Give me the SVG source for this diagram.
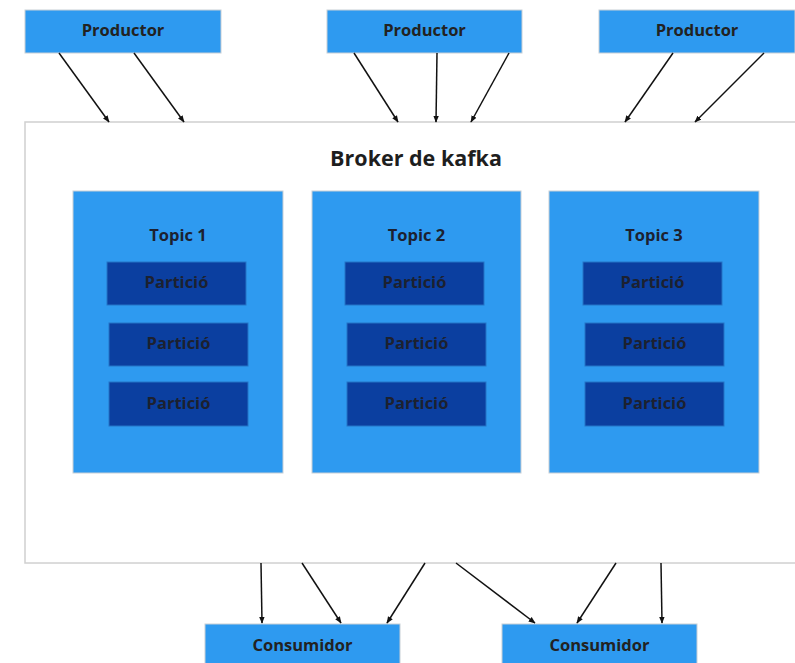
<svg xmlns="http://www.w3.org/2000/svg" width="795" height="663" viewBox="0 0 795 663">
<defs>
<style>
.node{fill:#2e9af0;stroke:#c8cfd6;stroke-width:1}
.part{fill:#0b3fa0;stroke:#2574c6;stroke-width:1}
.broker{fill:#ffffff;stroke:#d0d0d0;stroke-width:1.5}
text{font-family:"Open Sans","Noto Sans","DejaVu Sans",sans-serif;font-weight:bold;fill:#222;text-anchor:middle}
.lbl{font-size:16.5px}
.ptxt{font-size:16.5px;fill:#1c2130}
.ttl{font-size:21.5px;fill:#1e1e1e}
.conn line{stroke:#111;stroke-width:1.5;marker-end:url(#arr)}
</style>
<marker id="arr" viewBox="0 0 10 10" refX="9" refY="5" markerWidth="7" markerHeight="7" orient="auto" markerUnits="userSpaceOnUse">
<path d="M0,1 L10,5 L0,9 z" fill="#111"/>
</marker>
</defs>
<rect width="795" height="663" fill="#ffffff"/>
<g id="broker">
<rect class="broker" x="25" y="122" width="780" height="441"/>
<text class="ttl" x="416" y="166">Broker de kafka</text>
</g>
<g id="producer1"><rect class="node" x="25" y="10" width="196" height="43"/><text class="lbl" x="123" y="36">Productor</text></g>
<g id="producer2"><rect class="node" x="327" y="10" width="195" height="43"/><text class="lbl" x="424.5" y="36">Productor</text></g>
<g id="producer3"><rect class="node" x="599" y="10" width="196" height="43"/><text class="lbl" x="697" y="36">Productor</text></g>
<g id="topic1">
<rect class="node" x="73" y="191" width="210" height="282"/>
<text class="ptxt" x="178" y="241">Topic 1</text>
<rect class="part" x="107" y="262" width="139" height="43"/><text class="ptxt" x="176.5" y="288">Partició</text>
<rect class="part" x="109" y="323" width="139" height="43"/><text class="ptxt" x="178.5" y="349">Partició</text>
<rect class="part" x="109" y="382" width="139" height="44"/><text class="ptxt" x="178.5" y="409">Partició</text>
</g>
<g id="topic2">
<rect class="node" x="312" y="191" width="209" height="282"/>
<text class="ptxt" x="416.5" y="241">Topic 2</text>
<rect class="part" x="345" y="262" width="139" height="43"/><text class="ptxt" x="414.5" y="288">Partició</text>
<rect class="part" x="347" y="323" width="139" height="43"/><text class="ptxt" x="416.5" y="349">Partició</text>
<rect class="part" x="347" y="382" width="139" height="44"/><text class="ptxt" x="416.5" y="409">Partició</text>
</g>
<g id="topic3">
<rect class="node" x="549" y="191" width="210" height="282"/>
<text class="ptxt" x="654" y="241">Topic 3</text>
<rect class="part" x="583" y="262" width="139" height="43"/><text class="ptxt" x="652.5" y="288">Partició</text>
<rect class="part" x="585" y="323" width="139" height="43"/><text class="ptxt" x="654.5" y="349">Partició</text>
<rect class="part" x="585" y="382" width="139" height="44"/><text class="ptxt" x="654.5" y="409">Partició</text>
</g>
<g id="consumer1"><rect class="node" x="205" y="624" width="195" height="50"/><text class="lbl" x="302.5" y="651">Consumidor</text></g>
<g id="consumer2"><rect class="node" x="502" y="624" width="195" height="50"/><text class="lbl" x="599.5" y="651">Consumidor</text></g>
<g id="connectors" class="conn">
<line x1="59" y1="53" x2="109" y2="122"/>
<line x1="134" y1="53" x2="184" y2="122"/>
<line x1="354" y1="53" x2="398" y2="122"/>
<line x1="437" y1="53" x2="436" y2="122"/>
<line x1="509" y1="53" x2="471" y2="122"/>
<line x1="673" y1="53" x2="625" y2="122"/>
<line x1="764" y1="53" x2="695" y2="122"/>
<line x1="261" y1="563" x2="262" y2="623"/>
<line x1="302" y1="563" x2="341" y2="623"/>
<line x1="425" y1="563" x2="387" y2="623"/>
<line x1="456" y1="563" x2="535" y2="623"/>
<line x1="616" y1="563" x2="577" y2="623"/>
<line x1="661" y1="563" x2="662" y2="623"/>
</g>
</svg>
